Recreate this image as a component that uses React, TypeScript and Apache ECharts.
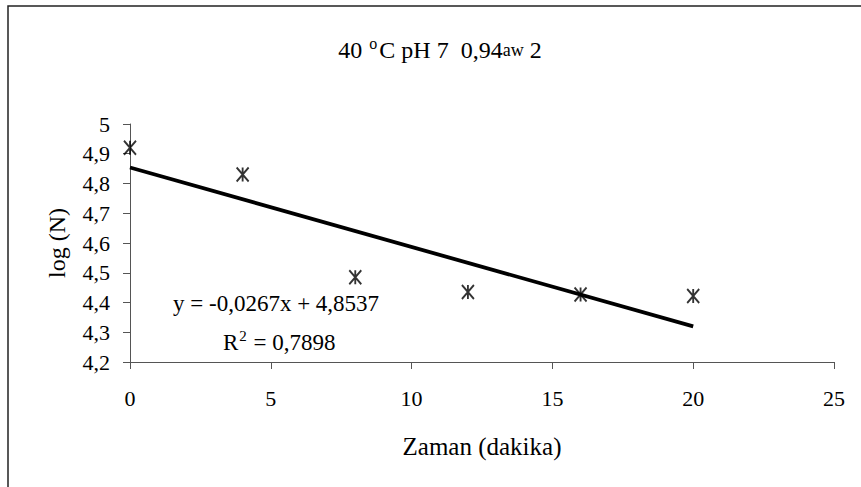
import React, { useEffect, useRef } from "react";
import * as echarts from "echarts";

// Time in minutes and measured log counts
const zamanDakika = [0, 4, 8, 12, 16, 20];
const logN = [4.92, 4.83, 4.485, 4.435, 4.427, 4.422];

// Linear trend line and its fit statistics
const trendSlope = -0.0267;
const trendIntercept = 4.8537;
const trendR2 = 0.7898;

// Axis ranges and ticks
const xTicks = [0, 5, 10, 15, 20, 25];
const yTicks = [4.2, 4.3, 4.4, 4.5, 4.6, 4.7, 4.8, 4.9, 5];

const SERIF = "'Liberation Serif', 'Times New Roman', serif";

const comma = (v: number) => String(v).replace(".", ",");

export default function App() {
  const ref = useRef<HTMLDivElement>(null);

  useEffect(() => {
    if (!ref.current) return;
    const chart = echarts.init(ref.current, null, { renderer: "svg" });

    const trendX0 = zamanDakika[0];
    const trendX1 = zamanDakika[zamanDakika.length - 1];
    const trendData = [
      [trendX0, trendIntercept + trendSlope * trendX0],
      [trendX1, trendIntercept + trendSlope * trendX1],
    ];

    const eqText = "y = " + comma(trendSlope) + "x + " + comma(trendIntercept);

    chart.setOption({
      animation: false,
      backgroundColor: "#ffffff",
      textStyle: { fontFamily: SERIF, color: "#000" },
      grid: { left: 130, right: 27, top: 124, bottom: 125, containLabel: false },
      xAxis: {
        type: "value",
        min: xTicks[0],
        max: xTicks[xTicks.length - 1],
        interval: xTicks[1] - xTicks[0],
        name: "Zaman (dakika)",
        nameLocation: "middle",
        nameGap: 72,
        nameTextStyle: { fontFamily: SERIF, fontSize: 25, color: "#000" },
        axisLine: { lineStyle: { color: "#555", width: 1 } },
        axisTick: { show: true, inside: false, length: 7, lineStyle: { color: "#555" } },
        axisLabel: { fontFamily: SERIF, fontSize: 22, color: "#000", margin: 25 },
        splitLine: { show: false },
      },
      yAxis: {
        type: "value",
        min: yTicks[0],
        max: yTicks[yTicks.length - 1],
        interval: 0.1,
        name: "log (N)",
        nameLocation: "middle",
        nameGap: 61,
        nameRotate: 90,
        nameTextStyle: { fontFamily: SERIF, fontSize: 24, color: "#000" },
        axisLine: { show: true, lineStyle: { color: "#555", width: 1 } },
        axisTick: { show: true, inside: false, length: 7, lineStyle: { color: "#555" } },
        axisLabel: {
          fontFamily: SERIF,
          fontSize: 22,
          color: "#000",
          margin: 20,
          formatter: (v: number) => comma(Math.round(v * 10) / 10),
        },
        splitLine: { show: false },
      },
      graphic: [
        {
          type: "rect",
          silent: true,
          shape: { x: 8, y: 6, width: 900, height: 600 },
          style: { fill: "none", stroke: "#222", lineWidth: 1.5 },
        },
        {
          type: "text",
          x: 440,
          y: 50,
          style: {
            text: "{n|40 }{sup|o}{n|C pH 7  0,94}{sub|aw}{n| 2}",
            align: "center",
            verticalAlign: "middle",
            fill: "#000",
            rich: {
              n: { fontFamily: SERIF, fontSize: 24, fill: "#000" },
              sup: { fontFamily: SERIF, fontSize: 16, fill: "#000", padding: [0, 2, 13, 1] },
              sub: { fontFamily: SERIF, fontSize: 18, fill: "#000" },
            },
          },
        },
        {
          type: "text",
          x: 173,
          y: 303,
          style: {
            text: eqText,
            align: "left",
            verticalAlign: "middle",
            fontFamily: SERIF,
            fontSize: 23,
            fill: "#000",
          },
        },
        {
          type: "text",
          x: 223,
          y: 342,
          style: {
            text: "{n|R}{sup|2}{n| = " + comma(trendR2) + "}",
            align: "left",
            verticalAlign: "middle",
            fill: "#000",
            rich: {
              n: { fontFamily: SERIF, fontSize: 23, fill: "#000" },
              sup: { fontFamily: SERIF, fontSize: 15, fill: "#000", padding: [0, 1, 13, 1] },
            },
          },
        },
      ],
      series: [
        {
          name: "trend",
          type: "line",
          data: trendData,
          showSymbol: false,
          symbol: "none",
          lineStyle: { color: "#000", width: 3.8 },
          z: 2,
        },
        {
          name: "log (N)",
          type: "scatter",
          data: zamanDakika.map((x, i) => [x, logN[i]]),
          symbol: "path://M0,0L12,14M12,0L0,14M6,0L6,14",
          symbolSize: [12, 14],
          itemStyle: { color: "none", borderColor: "#000", borderWidth: 2 },
          z: 3,
        },
      ],
    });

    return () => chart.dispose();
  }, []);

  return (
    <div
      ref={ref}
      style={{ position: "absolute", left: 0, top: 0, width: 861, height: 487, background: "#fff" }}
    />
  );
}
